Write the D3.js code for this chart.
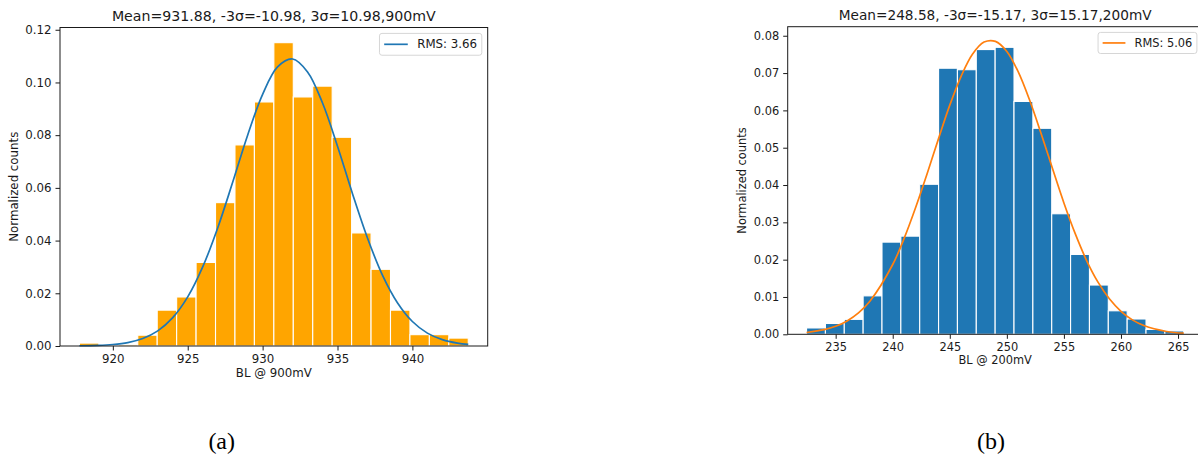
<!DOCTYPE html>
<html>
<head>
<meta charset="utf-8">
<script src="https://cdn.jsdelivr.net/npm/d3@7"></script>
<style>
  body { margin: 0; background: #fff; }
  text { font-family: "DejaVu Sans", sans-serif; fill: #1a1a1a; }
  text.caption { font-family: "Liberation Serif", serif; fill: #000; }
</style>
</head>
<body>
<script>
// ---- panel (a): BL @ 900mV ----
const rangeA = [917.77, 943.73];           // histogram data range
const countsA = [0.0011, 0, 0.0005, 0.0041, 0.0136, 0.0186, 0.0317, 0.0544, 0.0763, 0.0926,
                 0.1151, 0.0945, 0.0986, 0.0792, 0.0429, 0.0291, 0.0136, 0.0043, 0.0043, 0.0030];
const fitXA = [917.77, 919, 920, 921, 922, 923, 924, 925, 926, 927, 928, 929, 930, 931, 932,
               933, 934, 935, 936, 937, 938, 939, 940, 941, 942, 943, 943.73];
const fitYA = [0.0001, 0.00022, 0.00056, 0.00131, 0.00285, 0.00574, 0.01075, 0.01863, 0.0300,
               0.0448, 0.0621, 0.0800, 0.0955, 0.1059, 0.1089, 0.1040, 0.0922, 0.0758, 0.0578,
               0.0410, 0.0269, 0.01644, 0.0093, 0.00489, 0.0024, 0.00108, 0.00058];
const xTicksA = [920, 925, 930, 935, 940];
const yTicksA = [0, 0.02, 0.04, 0.06, 0.08, 0.10, 0.12];
const titleA = "Mean=931.88, -3σ=-10.98, 3σ=10.98,900mV";
const legendA = "RMS: 3.66";
const xLabelA = "BL @ 900mV";

// ---- panel (b): BL @ 200mV ----
const rangeB = [232.45, 265.5];
const countsB = [0.0017, 0.0029, 0.0040, 0.0103, 0.0247, 0.0263, 0.0402, 0.0713, 0.0709, 0.0763,
                 0.0769, 0.0624, 0.0552, 0.0323, 0.0214, 0.0132, 0.0063, 0.0041, 0.0013, 0.0009];
const fitXB = [232.45, 234, 235, 236, 237, 238, 240, 241, 242, 243, 244, 245, 246, 247, 248, 249,
               250, 251, 252, 253, 254, 255, 256, 257, 258, 259, 260, 261, 262, 264, 265.5];
const fitYB = [0.00049, 0.00124, 0.00215, 0.00359, 0.00575, 0.00886, 0.0187, 0.0257, 0.0339,
               0.0429, 0.0523, 0.0614, 0.0692, 0.0751, 0.0783, 0.0785, 0.0758, 0.0703, 0.0627,
               0.0538, 0.0444, 0.0352, 0.0269, 0.0197, 0.0139, 0.00946, 0.00617, 0.00387,
               0.00234, 0.00076, 0.00029];
const xTicksB = [235, 240, 245, 250, 255, 260, 265];
const yTicksB = [0, 0.01, 0.02, 0.03, 0.04, 0.05, 0.06, 0.07, 0.08];
const titleB = "Mean=248.58, -3σ=-15.17, 3σ=15.17,200mV";
const legendB = "RMS: 5.06";
const xLabelB = "BL @ 200mV";

const yLabel = "Normalized counts";
const captions = ["(a)", "(b)"];

const svg = d3.select("body").append("svg")
  .attr("width", 1198)
  .attr("height", 457);

function drawPanel(p) {
  const [lo, hi] = p.range;
  const n = p.counts.length;
  const binW = (hi - lo) / n;
  const pad = 0.05 * (hi - lo);
  const bins = p.counts.map((c, i) => ({ x0: lo + i * binW, x1: lo + (i + 1) * binW, v: c }));

  const x = d3.scaleLinear().domain([lo - pad, hi + pad]).range([p.left, p.right]);
  const yMax = Math.max(d3.max(p.counts), d3.max(p.fitY)) * 1.05;
  const y = d3.scaleLinear().domain([0, yMax]).range([p.bottom, p.top]);
  const fs = p.fs;

  const g = svg.append("g");

  // bars
  g.selectAll(".bar")
    .data(bins.filter(b => b.v > 0))
    .enter()
    .append("rect")
    .attr("x", d => x(d.x0))
    .attr("y", d => y(d.v))
    .attr("width", d => x(d.x1) - x(d.x0))
    .attr("height", d => y(0) - y(d.v))
    .attr("fill", p.barColor)
    .attr("stroke", "#fff")
    .attr("stroke-width", 1.1);

  // fitted curve
  const line = d3.line()
    .curve(d3.curveCatmullRom)
    .x(d => x(d[0]))
    .y(d => y(d[1]));
  g.append("path")
    .datum(p.fitX.map((v, i) => [v, p.fitY[i]]))
    .attr("fill", "none")
    .attr("stroke", p.lineColor)
    .attr("stroke-width", 1.7)
    .attr("d", line);

  // axes
  const xAxis = d3.axisBottom(x).tickValues(p.xTicks).tickSize(4.5).tickPadding(4)
    .tickFormat(d3.format("d"));
  const xg = g.append("g").attr("transform", `translate(0,${p.bottom})`).call(xAxis);
  xg.select(".domain").remove();
  xg.selectAll("line").attr("stroke", "#1a1a1a");
  xg.selectAll("text").attr("font-size", fs).attr("font-family", "DejaVu Sans").attr("fill", "#1a1a1a");

  const yAxis = d3.axisLeft(y).tickValues(p.yTicks).tickSize(4.5).tickPadding(4)
    .tickFormat(d3.format(".2f"));
  const yg = g.append("g").attr("transform", `translate(${p.left},0)`).call(yAxis);
  yg.select(".domain").remove();
  yg.selectAll("line").attr("stroke", "#1a1a1a");
  yg.selectAll("text").attr("font-size", fs).attr("font-family", "DejaVu Sans").attr("fill", "#1a1a1a");

  // spines
  g.append("rect")
    .attr("x", p.left).attr("y", p.top)
    .attr("width", p.right - p.left).attr("height", p.bottom - p.top)
    .attr("fill", "none").attr("stroke", "#1a1a1a").attr("stroke-width", 1);

  // title and labels
  g.append("text")
    .attr("x", (p.left + p.right) / 2).attr("y", p.top - 0.55 * fs)
    .attr("text-anchor", "middle").attr("font-size", fs * 1.2)
    .text(p.title);
  g.append("text")
    .attr("x", (p.left + p.right) / 2).attr("y", p.bottom + 2.6 * fs)
    .attr("text-anchor", "middle").attr("font-size", fs)
    .text(p.xLabel);
  g.append("text")
    .attr("transform", `translate(${p.yLabelX},${(p.top + p.bottom) / 2}) rotate(-90)`)
    .attr("text-anchor", "middle").attr("dy", "0.35em").attr("font-size", fs)
    .text(yLabel);

  // legend
  const lg = g.append("g");
  const box = lg.append("rect");
  const label = lg.append("text").attr("font-size", fs).text(p.legend);
  const tw = label.node().getComputedTextLength();
  const bw = tw + fs * (0.4 + 2 + 0.8 + 0.4);
  const bh = fs * 1.85;
  const bx = p.right - 0.5 * fs - bw;
  const by = p.top + 0.5 * fs;
  box.attr("x", bx).attr("y", by).attr("width", bw).attr("height", bh)
    .attr("rx", 2.5).attr("fill", "#fff").attr("fill-opacity", 0.8)
    .attr("stroke", "#d6d6d6").attr("stroke-width", 1);
  lg.append("line")
    .attr("x1", bx + 0.4 * fs).attr("x2", bx + 2.4 * fs)
    .attr("y1", by + bh / 2).attr("y2", by + bh / 2)
    .attr("stroke", p.lineColor).attr("stroke-width", 1.7);
  label.attr("x", bx + 3.2 * fs).attr("y", by + bh / 2).attr("dy", "0.35em");

  // caption under the panel
  svg.append("text")
    .attr("class", "caption")
    .attr("x", p.captionX).attr("y", 449)
    .attr("text-anchor", "middle")
    .attr("font-size", 24)
    .text(p.caption);
}

drawPanel({
  range: rangeA, counts: countsA, fitX: fitXA, fitY: fitYA,
  xTicks: xTicksA, yTicks: yTicksA, title: titleA, legend: legendA, xLabel: xLabelA,
  left: 60, right: 487.7, top: 27.5, bottom: 346, fs: 11.8, yLabelX: 13.5,
  barColor: "#ffa500", lineColor: "#1f77b4", caption: captions[0], captionX: 221.7
});

drawPanel({
  range: rangeB, counts: countsB, fitX: fitXB, fitY: fitYB,
  xTicks: xTicksB, yTicks: yTicksB, title: titleB, legend: legendB, xLabel: xLabelB,
  left: 787.7, right: 1202.6, top: 26.7, bottom: 334.3, fs: 11.4, yLabelX: 741.7,
  barColor: "#1f77b4", lineColor: "#ff7f0e", caption: captions[1], captionX: 991
});
</script>
</body>
</html>
